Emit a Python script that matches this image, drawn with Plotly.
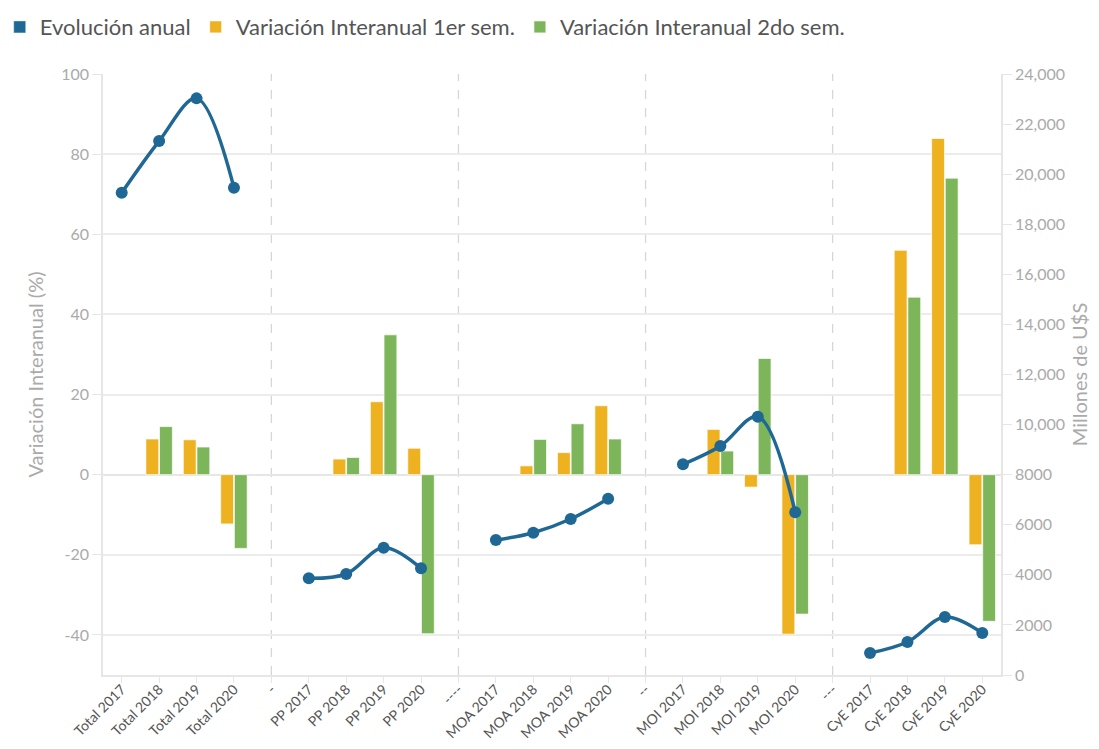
import plotly.graph_objects as go

categories = ["Total 2017", "Total 2018", "Total 2019", "Total 2020", "-",
              "PP 2017", "PP 2018", "PP 2019", "PP 2020", "----",
              "MOA 2017", "MOA 2018", "MOA 2019", "MOA 2020", "--",
              "MOI 2017", "MOI 2018", "MOI 2019", "MOI 2020", "---",
              "CyE 2017", "CyE 2018", "CyE 2019", "CyE 2020"]
separators = ["-", "----", "--", "---"]

var_1er = [None, 8.9, 8.7, -12.3, None,
           None, 3.9, 18.2, 6.6, None,
           None, 2.2, 5.5, 17.2, None,
           None, 11.3, -3.1, -39.8, None,
           None, 56.0, 83.9, -17.5]
var_2do = [None, 12.0, 6.9, -18.4, None,
           None, 4.3, 34.9, -39.7, None,
           None, 8.8, 12.7, 8.9, None,
           None, 5.9, 29.0, -34.8, None,
           None, 44.3, 74.0, -36.6]
evol_anual = [19258, 21323, 23027, 19458, None,
              3862, 4033, 5083, 4260, None,
              5391, 5683, 6229, 7041, None,
              8413, 9144, 10315, 6496, None,
              878, 1318, 2316, 1677]

left_ticks = [-40, -20, 0, 20, 40, 60, 80, 100]
left_labels = ["-40", "-20", "0", "20", "40", "60", "80", "100"]
right_ticks = [0, 2000, 4000, 6000, 8000, 10000, 12000, 14000, 16000, 18000, 20000, 22000, 24000]
right_labels = ["0", "2000", "4000", "6000", "8000", "10,000", "12,000", "14,000",
                "16,000", "18,000", "20,000", "22,000", "24,000"]

BLUE = "#1f6896"
ORANGE = "#eeb11f"
GREEN = "#7db65a"
FONT = "Lato"

fig = go.Figure()

# legend-only entry for the line series (square icon like the reference)
fig.add_trace(go.Bar(x=[None], y=[None], name="Evolución anual", yaxis="y2",
                     marker=dict(color=BLUE), hoverinfo="skip"))
fig.add_trace(go.Bar(x=categories, y=var_1er, name="Variación Interanual 1er sem.",
                     marker=dict(color=ORANGE, line=dict(color="rgba(255,255,255,0.7)", width=1))))
fig.add_trace(go.Bar(x=categories, y=var_2do, name="Variación Interanual 2do sem.",
                     marker=dict(color=GREEN, line=dict(color="rgba(255,255,255,0.7)", width=1))))
fig.add_trace(go.Scatter(x=categories, y=evol_anual, name="Evolución anual", yaxis="y2",
                         mode="lines+markers", showlegend=False,
                         line=dict(color=BLUE, width=3.5, shape="spline", smoothing=1),
                         marker=dict(color=BLUE, size=12),
                         connectgaps=False))

for s in separators:
    fig.add_shape(type="line", xref="x", yref="paper", x0=s, x1=s, y0=0, y1=1,
                  line=dict(color="#d6d6d6", width=1.3, dash="dash"), layer="below")

fig.update_layout(
    width=1083, height=733,
    margin=dict(l=95, r=90, t=66, b=66, autoexpand=False),
    paper_bgcolor="white", plot_bgcolor="white",
    font=dict(family=FONT, size=14, color="#999999"),
    barmode="group", bargap=0.27, bargroupgap=0.06,
    showlegend=True,
    legend=dict(orientation="h", x=-0.115, y=1.113, xanchor="left", yanchor="top",
                font=dict(size=22, color="#555555", family=FONT),
                itemwidth=30, tracegroupgap=0, traceorder="normal"),
    xaxis=dict(type="category", categoryorder="array", categoryarray=categories,
               tickangle=-45, tickfont=dict(size=14, color="#555555"), automargin=False,
               ticklabelstandoff=-7,
               showgrid=False, showline=True, linecolor="#e6e6e6", linewidth=1.5,
               ticks="outside", ticklen=6, tickcolor="#e6e6e6", zeroline=False,
               range=[-0.5, len(categories) - 0.5]),
    yaxis=dict(range=[-50, 100], tickvals=left_ticks, ticktext=left_labels, automargin=False,
               title=dict(text="Variación Interanual (%)", font=dict(size=20, color="#aaaaaa"), standoff=12),
               tickfont=dict(size=16, color="#aaaaaa"),
               showgrid=True, gridcolor="#ececec", gridwidth=1.5,
               showline=True, linecolor="#e6e6e6", linewidth=1.5,
               ticks="outside", ticklen=9, tickcolor="#e6e6e6",
               zeroline=True, zerolinecolor="#e6e6e6", zerolinewidth=1.5),
    yaxis2=dict(range=[0, 24000], tickvals=right_ticks, ticktext=right_labels,
                overlaying="y", side="right", automargin=False,
                title=dict(text="Millones de U$S", font=dict(size=20, color="#aaaaaa"), standoff=14),
                tickfont=dict(size=16, color="#aaaaaa"),
                showgrid=False, showline=True, linecolor="#e6e6e6", linewidth=1.5,
                ticks="outside", ticklen=9, tickcolor="#e6e6e6", zeroline=False),
)

fig.write_html("out.html")
